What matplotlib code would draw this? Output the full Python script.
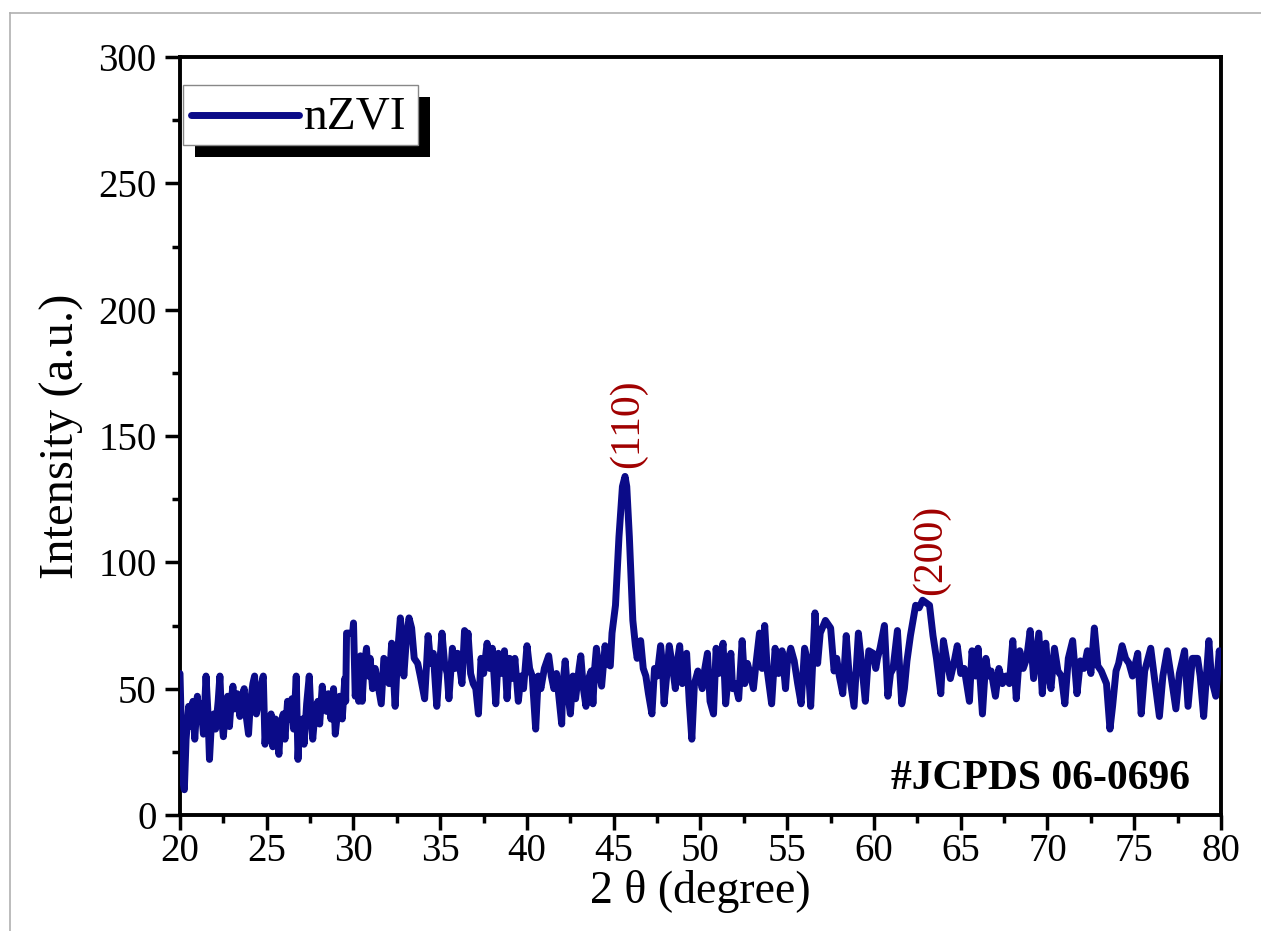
import matplotlib
matplotlib.use("Agg")
import matplotlib.pyplot as plt
from matplotlib.patches import Rectangle
from matplotlib.lines import Line2D
from matplotlib.ticker import MultipleLocator

plt.rcParams['font.family'] = ['Liberation Serif', 'DejaVu Serif']

# ---- data (2theta in degree, intensity in a.u.) ----
two_theta = [
    20.00, 20.15, 20.25, 20.35, 20.5, 20.6, 20.75, 20.85, 21.0, 21.1, 21.2, 21.35, 21.5, 21.6, 21.7, 21.8,
    21.95, 22.05, 22.2, 22.3, 22.4, 22.5, 22.65, 22.75, 22.85, 22.95, 23.05, 23.15, 23.3, 23.45, 23.55, 23.7,
    23.8, 23.95, 24.05, 24.2, 24.3, 24.4, 24.55, 24.7, 24.8, 24.9, 25.0, 25.1, 25.25, 25.35, 25.5, 25.6,
    25.7, 25.8, 25.95, 26.05, 26.2, 26.3, 26.45, 26.55, 26.7, 26.8, 26.9, 27.05, 27.15, 27.3, 27.45, 27.55,
    27.65, 27.8, 27.95, 28.05, 28.2, 28.3, 28.45, 28.55, 28.7, 28.85, 28.95, 29.1, 29.2, 29.35, 29.5, 29.55,
    29.6, 29.95, 30.0, 30.1, 30.2, 30.3, 30.4, 30.5, 30.6, 30.75, 30.85,
    30.96, 31.1, 31.25, 31.4, 31.6, 31.75, 31.95, 32.05, 32.2, 32.4, 32.55, 32.7, 32.8, 32.9, 33.05, 33.2,
    33.35, 33.5, 33.7, 33.85, 34.1, 34.2, 34.3, 34.45, 34.6, 34.8, 34.95, 35.1, 35.25, 35.4, 35.5, 35.7,
    35.85, 36.0, 36.1, 36.25, 36.4, 36.55, 36.6, 36.75, 36.9, 37.05, 37.2, 37.35, 37.5, 37.7, 37.85, 38.0,
    38.2, 38.35, 38.5, 38.7, 38.85, 39.0, 39.2, 39.3, 39.5, 39.65, 39.8, 40.0, 40.15, 40.3, 40.5, 40.65,
    40.8, 41.0, 41.25, 41.4, 41.55, 41.7, 41.85, 42.0,
    42.05, 42.2, 42.35, 42.5, 42.65, 42.8, 43.0, 43.1, 43.25, 43.4, 43.55, 43.7, 43.8, 43.9, 44.0, 44.2,
    44.3, 44.5, 44.6, 44.8, 44.9, 45.1, 45.3, 45.5, 45.65, 45.75, 45.9, 46.1, 46.25, 46.35, 46.55, 46.7,
    46.85, 47.0, 47.2, 47.35, 47.5, 47.7, 47.8, 47.9, 48.05, 48.2, 48.4, 48.55, 48.65, 48.8, 48.95, 49.05,
    49.2, 49.35, 49.5, 49.65, 49.85, 50.1, 50.25, 50.4, 50.55, 50.75, 50.9, 51.05, 51.3, 51.45, 51.6, 51.75,
    51.85, 52.0, 52.2, 52.4, 52.55, 52.7, 52.9,
    53.05, 53.2, 53.4, 53.55, 53.7, 53.85, 54.1, 54.3, 54.5, 54.7, 54.9, 55.0, 55.2, 55.4, 55.6, 55.8,
    56.0, 56.2, 56.35, 56.6, 56.75, 56.9, 57.2, 57.5, 57.7, 57.85, 58.0, 58.2, 58.4, 58.55, 58.7, 58.85,
    59.1, 59.3, 59.5, 59.7, 59.95, 60.1, 60.2, 60.35, 60.6, 60.8, 60.95, 61.1, 61.35, 61.6, 61.75, 61.9,
    62.1, 62.4, 62.6, 62.8, 63.0, 63.2, 63.4, 63.6, 63.85, 64.0,
    64.2, 64.4, 64.6, 64.8, 65.0, 65.2, 65.5, 65.65, 65.85, 66.0, 66.25, 66.45, 66.6, 66.75, 67.0, 67.2,
    67.4, 67.6, 67.8, 68.0, 68.2, 68.4, 68.6, 68.8, 69.0, 69.2, 69.5, 69.7, 69.9, 70.05, 70.2, 70.4,
    70.6, 70.8, 71.0, 71.2, 71.45, 71.7, 71.9, 72.1, 72.3, 72.5, 72.7, 72.9, 73.1, 73.4, 73.6, 73.75,
    73.95, 74.1, 74.3, 74.5, 74.7, 74.9, 75.2, 75.4, 75.6, 75.95, 76.15, 76.45, 76.65, 76.9, 77.1, 77.4,
    77.6, 77.9, 78.1, 78.35, 78.65, 78.8, 79.0, 79.3, 79.45, 79.7, 79.9, 80.0,
]
intensity = [
    56, 14, 10, 30, 43, 35, 45, 30, 47, 38, 44, 32, 55, 42, 22, 35,
    40, 34, 45, 55, 38, 31, 45, 47, 35, 45, 51, 42, 48, 39, 46, 50,
    40, 32, 44, 52, 55, 40, 45, 52, 55, 28, 38, 30, 40, 27, 38, 33,
    24, 36, 40, 30, 45, 38, 46, 34, 55, 22, 36, 38, 28, 44, 55, 40,
    30, 42, 45, 36, 51, 43, 41, 48, 38, 50, 32, 42, 47, 38, 54, 45,
    72, 72, 76, 47, 55, 45, 63, 45, 58, 66, 55,
    62, 50, 58, 52, 44, 62, 60, 52, 68, 43, 65, 78, 70, 55, 70, 78,
    74, 62, 60, 55, 46, 58, 71, 60, 64, 43, 58, 72, 60, 56, 46, 66,
    58, 64, 60, 52, 73, 68, 72, 56, 52, 50, 40, 62, 56, 68, 58, 66,
    44, 64, 56, 65, 46, 62, 54, 62, 45, 55, 50, 67, 58, 55, 34, 55,
    50, 58, 63, 55, 50, 56, 46, 36,
    50, 61, 48, 40, 55, 46, 58, 63, 50, 43, 54, 57, 44, 58, 66, 55,
    51, 67, 60, 59, 72, 83, 110, 130, 134, 130, 110, 77, 67, 62, 69, 58,
    55, 48, 40, 58, 55, 67, 60, 44, 55, 67, 58, 50, 60, 67, 52, 58,
    64, 45, 30, 52, 57, 50, 58, 64, 45, 40, 66, 56, 68, 44, 55, 64,
    50, 52, 46, 69, 52, 60, 55,
    50, 60, 72, 58, 75, 57, 44, 66, 56, 65, 50, 60, 66, 61, 52, 44,
    66, 60, 43, 80, 60, 72, 77, 74, 57, 62, 55, 48, 71, 57, 50, 43,
    72, 59, 45, 65, 64, 58, 62, 66, 75, 47, 56, 58, 73, 44, 50, 61,
    71, 83, 82, 85, 84, 83, 71, 62, 48, 69,
    61, 54, 60, 67, 56, 58, 45, 65, 55, 66, 40, 62, 55, 57, 47, 58,
    52, 55, 52, 69, 46, 65, 58, 62, 73, 54, 72, 48, 68, 56, 50, 66,
    57, 55, 44, 62, 69, 48, 61, 58, 65, 56, 74, 59, 57, 52, 34, 43,
    57, 60, 67, 62, 60, 55, 64, 40, 57, 66, 55, 39, 55, 65, 56, 42,
    56, 65, 43, 62, 62, 55, 39, 69, 54, 47, 65, 58,
]
series_label = "nZVI"
peak_labels = ["(110)", "(200)"]
peak_positions = [45.8, 63.3]
peak_label_bottoms = [137.5, 87]
x_ticks = list(range(20, 81, 5))
y_ticks = list(range(0, 301, 50))
reference_card = "#JCPDS 06-0696"

line_color = "#0b0b88"
label_color = "#a00000"

fig = plt.figure(figsize=(12.61, 9.31), dpi=100)
ax = fig.add_axes([180 / 1261, 1 - 815 / 931, (1221 - 180) / 1261, (815 - 57) / 931])

ax.plot(two_theta, intensity, color=line_color, lw=5.0, solid_joinstyle='round',
        solid_capstyle='round', zorder=3)

ax.set_xlim(20, 80)
ax.set_ylim(0, 300)
ax.set_xticks(x_ticks)
ax.set_yticks(y_ticks)
ax.xaxis.set_minor_locator(MultipleLocator(2.5))
ax.yaxis.set_minor_locator(MultipleLocator(25))
ax.tick_params(axis='both', which='major', direction='out', length=11, width=2.5,
               labelsize=28, pad=6)
ax.tick_params(axis='x', which='major', pad=2)
ax.tick_params(axis='both', which='minor', direction='out', length=6, width=2.5)
for s in ax.spines.values():
    s.set_linewidth(2.8)

ax.set_xlabel("2 θ (degree)", fontsize=33, labelpad=0)
ax.set_ylabel("Intensity (a.u.)", fontsize=35, labelpad=10)

for lab, xp, yb in zip(peak_labels, peak_positions, peak_label_bottoms):
    ax.text(xp, yb, lab, rotation=90, ha='center', va='bottom', color=label_color,
            fontsize=30)

ax.text(0.970, 0.022, reference_card, transform=ax.transAxes, ha='right', va='bottom',
        fontsize=30, fontweight='bold', color='black')

# legend box with solid black shadow
ax.add_patch(Rectangle((0.0144, 0.868), 0.2256, 0.079, transform=ax.transAxes,
                       facecolor='black', edgecolor='none', zorder=6))
ax.add_patch(Rectangle((0.003, 0.884), 0.2256, 0.079, transform=ax.transAxes,
                       facecolor='white', edgecolor='#888888', lw=1.0, zorder=7))
ax.add_line(Line2D([0.011, 0.114], [0.923, 0.923], transform=ax.transAxes,
                   color=line_color, lw=5.0, solid_capstyle='round', zorder=8))
ax.text(0.119, 0.921, series_label, transform=ax.transAxes, ha='left', va='center',
        fontsize=34, zorder=8)

# thin grey frame lines of the original figure
fig.add_artist(Line2D([10 / 1261, 1.0], [1 - 13 / 931, 1 - 13 / 931], transform=fig.transFigure,
                      color='#b0b0b0', lw=1.2))
fig.add_artist(Line2D([10 / 1261, 10 / 1261], [0.0, 1 - 13 / 931], transform=fig.transFigure,
                      color='#b0b0b0', lw=1.2))

fig.savefig("out.png", dpi=100)
